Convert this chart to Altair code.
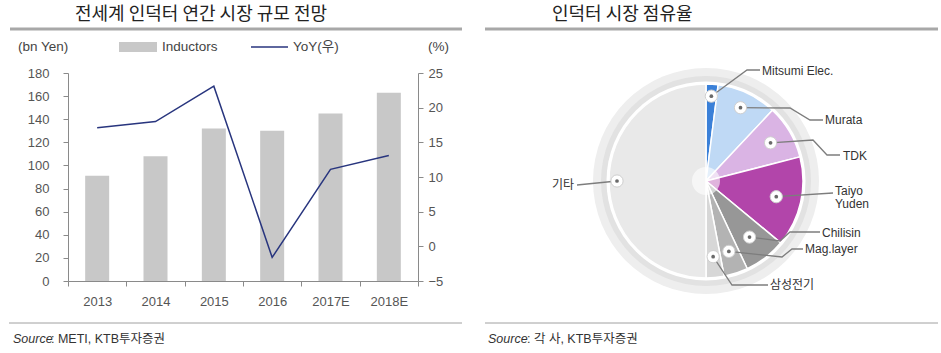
import math
import altair as alt
import pandas as pd

# ---------------- data ----------------
years = ["2013", "2014", "2015", "2016", "2017E", "2018E"]
inductors = [91, 108, 132, 130, 145, 163]          # bn Yen
yoy = [17.1, 18.0, 23.1, -1.6, 11.1, 13.1]          # %

companies = ["Mitsumi Elec.", "Murata", "TDK", "Taiyo Yuden",
             "Chilisin", "Mag.layer", "삼성전기", "기타"]
shares = [2, 10, 9, 15, 7, 4, 3, 50]                # %
label_lines = [["Mitsumi Elec."], ["Murata"], ["TDK"], ["Taiyo", "Yuden"],
               ["Chilisin"], ["Mag.layer"], ["삼성전기"], ["기타"]]

left_ticks = list(range(0, 181, 20))
right_ticks = list(range(-5, 26, 5))

# ---------------- styles / layout ----------------
FONT = "Liberation Sans, Arial, Noto Sans CJK KR"
KFONT = "Noto Sans CJK KR"
slice_colors = ["#3a80d8", "#bfd9f5", "#dab4e4", "#b245aa",
                "#979797", "#b3b3b3", "#d7d7d7", "#e9e9e9"]
# leader-line layout, pixel offsets from the pie centre (y up)
dot_radius = [85, 81, 75, 72, 71, 74, 76, 89]
elbows = [
    [(41, 111), (54, 111)],
    [(84, 73), (104, 61), (117, 61)],
    [(107, 41), (121, 26), (134, 26)],
    [(127, -12)],
    [(74, -60), (84, -51), (114, -51)],
    [(76, -76), (86, -68), (97, -68)],
    [(26, -104), (62, -104)],
    [(-129, -4)],
]
label_anchor = [(56, 110), (119, 61), (137, 25), (129, -9.5),
                (116, -51.5), (99, -68), (64, -104), (-132, -4)]
label_align = ["left"] * 7 + ["right"]

one = pd.DataFrame({"k": [0]})


def txt(s, x, y, size=13, color="#444", align="left", font=FONT, italic=False):
    kw = dict(align=align, baseline="middle", fontSize=size, font=font, color=color)
    if italic:
        kw["fontStyle"] = "italic"
    return alt.Chart(one).mark_text(**kw).encode(
        x=alt.value(x), y=alt.value(y), text=alt.value(s))


def hrule(x1, x2, y, color, w):
    return alt.Chart(one).mark_rule(color=color, strokeWidth=w).encode(
        x=alt.value(x1), x2=alt.value(x2), y=alt.value(y))


def box(x1, x2, y1, y2, color):
    return alt.Chart(one).mark_rect(color=color).encode(
        x=alt.value(x1), x2=alt.value(x2), y=alt.value(y1), y2=alt.value(y2))


# ---------------- left: bar + line ----------------
df = pd.DataFrame({"year": years, "inductors": inductors, "yoy": yoy})
axis_common = dict(domainColor="#8a8a8a", tickColor="#8a8a8a", labelColor="#555",
                   labelFontSize=13, labelFont=FONT, tickSize=5, grid=False, title=None,
                   zindex=1)
xenc = alt.X("year:N", sort=years,
             scale=alt.Scale(paddingInner=0, paddingOuter=0),
             axis=alt.Axis(labelAngle=0, tickBand="extent", labelPadding=9, **axis_common))

bars = alt.Chart(df).mark_bar(size=24, color="#c8c8c8").encode(
    x=xenc,
    y=alt.Y("inductors:Q", scale=alt.Scale(domain=[0, 180], nice=False),
            axis=alt.Axis(orient="left", values=left_ticks, labelPadding=14, **axis_common)))
line = alt.Chart(df).mark_line(color="#28357e", strokeWidth=1.5).encode(
    x=xenc,
    y=alt.Y("yoy:Q", scale=alt.Scale(domain=[-5, 25], nice=False, zero=False),
            axis=alt.Axis(orient="right", values=right_ticks, labelPadding=5, **axis_common)))

left = alt.layer(
    box(-68, 873, -73, 280, "white"),
    bars, line,
    txt("전세계 인덕터 연간 시장 규모 전망", 7, -58, size=18, color="#222", font=KFONT),
    hrule(-58, 394, -44, "#a8a8a8", 3),
    txt("(bn Yen)", -50, -26, size=13.5),
    box(51, 89, -31, -21, "#c8c8c8"),
    txt("Inductors", 94, -26, size=13.5),
    hrule(183, 220, -26, "#28357e", 1.5),
    txt("YoY(우)", 225, -26, size=13.5),
    txt("(%)", 360, -26, size=13.5),
    hrule(-59, 394, 250, "#a0a0a0", 1),
    txt("Source", -55, 266, size=12.5, color="#333", italic=True),
    txt(": METI, KTB투자증권", -17, 266, size=12.5, color="#333"),
).resolve_scale(y="independent").properties(width=350, height=208)

# ---------------- right: pie ----------------
pie_df = pd.DataFrame({"company": companies, "share": shares, "idx": range(len(companies))})

dot_rows, line_rows, lab_rows = [], [], []
cum = 0.0
for i, (c, s) in enumerate(zip(companies, shares)):
    mid = (cum + s / 2) / sum(shares) * 2 * math.pi
    cum += s
    dx, dy = dot_radius[i] * math.sin(mid), dot_radius[i] * math.cos(mid)
    dot_rows.append({"company": c, "x": dx, "y": dy})
    pts = [(dx, dy)] + elbows[i]
    for j, (px, py) in enumerate(pts):
        line_rows.append({"company": c, "seq": j, "x": px, "y": py})
    ax, ay = label_anchor[i]
    for k, t in enumerate(label_lines[i]):
        lab_rows.append({"text": t, "x": ax, "y": ay - 13 * k, "align": label_align[i]})

dots = pd.DataFrame(dot_rows)
leaders = pd.DataFrame(line_rows)
labs = pd.DataFrame(lab_rows)

xs = alt.X("x:Q", scale=alt.Scale(domain=[-221, 221], nice=False, zero=False), axis=None)
ys = alt.Y("y:Q", scale=alt.Scale(domain=[-108, 108], nice=False, zero=False), axis=None)


def ring(r, color, opacity=1.0):
    return alt.Chart(one).mark_arc(theta=0, theta2=2 * math.pi, outerRadius=r,
                                   opacity=opacity).encode(color=alt.value(color))


pie = alt.Chart(pie_df).mark_arc(outerRadius=97, stroke="white", strokeWidth=1.5).encode(
    theta=alt.Theta("share:Q", stack=True),
    order=alt.Order("idx:Q"),
    color=alt.Color("company:N", scale=alt.Scale(domain=companies, range=slice_colors),
                    legend=None))

leader_l = alt.Chart(leaders).mark_line(color="#7d7d7d", strokeWidth=1.3).encode(
    x=xs, y=ys, detail="company:N", order="seq:Q")
dot_outer = alt.Chart(dots).mark_point(filled=True, fill="white", size=150,
                                       stroke="#cfcfcf", strokeWidth=1, opacity=1).encode(x=xs, y=ys)
dot_inner = alt.Chart(dots).mark_point(filled=True, color="#6a6a6a", size=14,
                                       opacity=1).encode(x=xs, y=ys)
lab_left = alt.Chart(labs[labs["align"] == "left"]).mark_text(
    align="left", baseline="middle", fontSize=12, font=FONT, color="#333").encode(
    x=xs, y=ys, text="text:N")
lab_right = alt.Chart(labs[labs["align"] == "right"]).mark_text(
    align="right", baseline="middle", fontSize=12, font=FONT, color="#333").encode(
    x=xs, y=ys, text="text:N")

right = alt.layer(
    ring(113, "#eeeeee"),
    ring(105, "#e2e2e2"),
    ring(99.5, "#ffffff"),
    pie,
    ring(14, "#ffffff", 0.6),
    leader_l, dot_outer, dot_inner, lab_left, lab_right,
    txt("인덕터 시장 점유율", 67, -58, size=18, color="#222", font=KFONT),
    hrule(0, 453, -44, "#a8a8a8", 3),
    hrule(0, 453, 250, "#a0a0a0", 1),
    txt("Source", 3, 266, size=12.5, color="#333", italic=True),
    txt(": 각 사, KTB투자증권", 42, 266, size=12.5, color="#333"),
).properties(width=442, height=216)

chart = alt.hconcat(left, right, spacing=67, bounds="flush").configure_view(
    stroke=None).properties(padding=0)

chart.save("out.html", embed_options={"renderer": "svg", "actions": False})
